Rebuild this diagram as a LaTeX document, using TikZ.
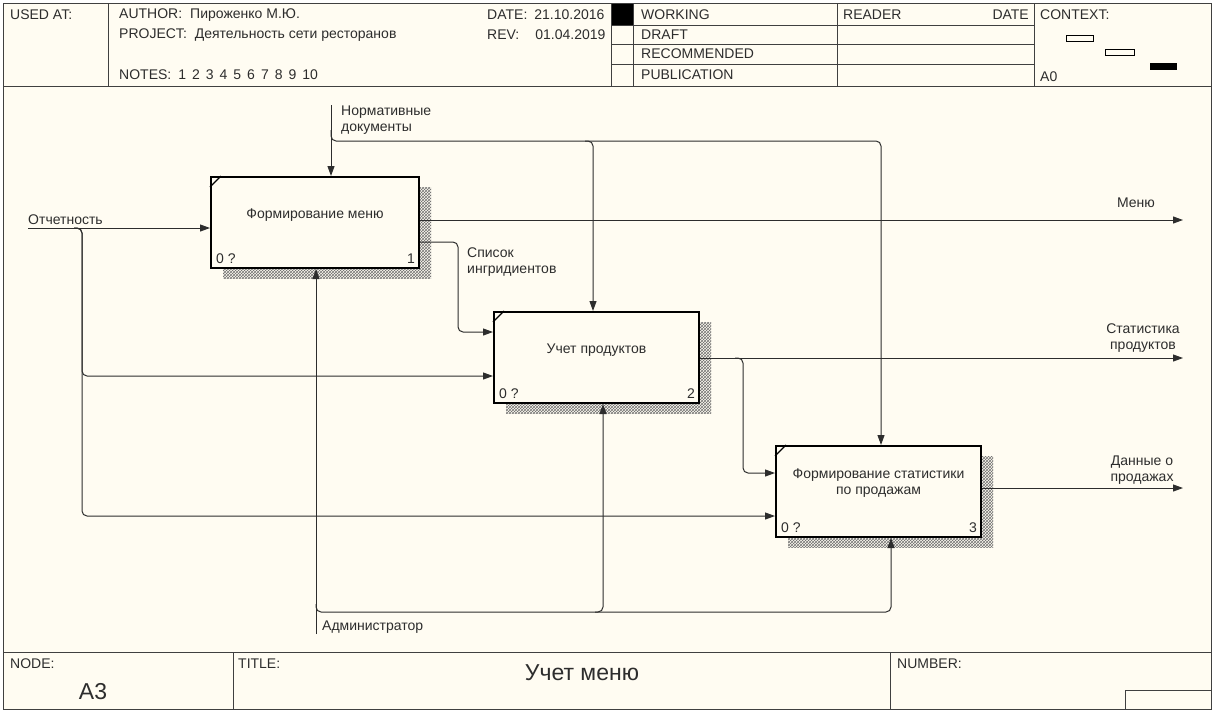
\documentclass[tikz,border=0pt]{standalone}
\usepackage{fontspec}
\setmainfont{Liberation Sans}
\usetikzlibrary{arrows.meta,patterns,calc,shadows}
\definecolor{bgc}{RGB}{255,252,242}
\definecolor{ink}{RGB}{45,45,45}
\begin{document}
\begin{tikzpicture}[x=1pt,y=-1pt,
  arr/.style={draw=ink,line width=1pt,-{Triangle[length=10pt,width=7pt]}},
  frame/.style={draw=black!75,line width=1pt},
  lbl/.style={font=\fontsize{14}{16}\selectfont,text=ink,inner sep=0pt},
  hdr/.style={lbl,anchor=west},
  idefbox/.style={draw=black,line width=2pt,fill=bgc,inner sep=0pt,minimum height=91pt,
     drop shadow={shadow xshift=12pt,shadow yshift=-10pt,opacity=1,pattern=crosshatch,pattern color=black!55}},
  corner/.style={draw=black,line width=1.3pt},
  big/.style={lbl,font=\fontsize{23}{25}\selectfont}
]
\useasboundingbox (0,0) rectangle (1214,710);
\fill[white] (0,0) rectangle (1214,710);
\fill[bgc] (3,3) rectangle (1211,709);

% ---------- header ----------
\fill[black] (611,3) rectangle (633,25);
\draw[frame] (3,3) rectangle (1211,709);
\draw[frame] (3,86) -- (1211,86);
\draw[frame] (108,3) -- (108,86);
\draw[frame] (611,3) -- (611,86);
\draw[frame] (633,3) -- (633,86);
\draw[frame] (837,3) -- (837,86);
\draw[frame] (1034,3) -- (1034,86);
\foreach \yy in {25,44,64} \draw[frame] (611,\yy) -- (1034,\yy);

\node[hdr] (usedat) at (10,15) {USED AT:};
\node[hdr] (author) at (119,15) {AUTHOR:\hspace{8pt}Пироженко М.Ю.};
\node[hdr] (project) at (119,35) {PROJECT:\hspace{8pt}Деятельность сети ресторанов};
\node[hdr] (notes) at (119,75) {NOTES:\hspace{7pt}1\hspace{6pt}2\hspace{6pt}3\hspace{6pt}4\hspace{6pt}5\hspace{6pt}6\hspace{6pt}7\hspace{6pt}8\hspace{6pt}9\hspace{6pt}10};
\node[hdr] (date) at (487,15) {DATE:\hspace{7pt}21.10.2016};
\node[hdr] (rev) at (487,35) {REV:\hspace{16pt}01.04.2019};
\node[hdr] (working) at (641,15) {WORKING};
\node[hdr] (draft) at (641,35) {DRAFT};
\node[hdr] (recom) at (641,54) {RECOMMENDED};
\node[hdr] (publ) at (641,75) {PUBLICATION};
\node[hdr] (reader) at (843,15) {READER};
\node[lbl,anchor=east] (rdate) at (1029,15) {DATE};
\node[hdr] (context) at (1040,15) {CONTEXT:};
\node[hdr] (azero) at (1040,77) {A0};
\draw[draw=black,line width=0.8pt,fill=bgc] (1066,35) rectangle (1093,41);
\draw[draw=black,line width=0.8pt,fill=bgc] (1105,49) rectangle (1134,55);
\fill[black] (1150,63) rectangle (1177,70);

% ---------- footer ----------
\draw[frame] (3,652) -- (1211,652);
\draw[frame] (233,652) -- (233,709);
\draw[frame] (890,652) -- (890,709);
\draw[frame] (1125,690) rectangle (1211,709);
\node[hdr] (nodelbl) at (10,664) {NODE:};
\node[hdr] (titlelbl) at (238,664) {TITLE:};
\node[hdr] (numlbl) at (897,664) {NUMBER:};
\node[big] (nodeval) at (93,692) {A3};
\node[big] (titleval) at (582,673) {Учет меню};

% ---------- boxes ----------
\node[idefbox,minimum width=208pt] (b1) at (315,222.5) {};
\node[idefbox,minimum width=205pt] (b2) at (596.5,357.5) {};
\node[idefbox,minimum width=205pt] (b3) at (878.5,491.5) {};

\foreach \b/\n in {b1/1,b2/2,b3/3}{
  \draw[corner] ($(\b.north west)+(0,11)$) -- ($(\b.north west)+(11,0)$);
  \node[lbl,anchor=south west] (\b zero) at ($(\b.south west)+(6,-5)$) {0 ?};
  \node[lbl,anchor=south east] (\b num) at ($(\b.south east)+(-5,-5)$) {\n};
}
\node[lbl] (t1) at ($(b1.center)+(0,-7)$) {Формирование меню};
\node[lbl] (t2) at ($(b2.center)+(0,-7)$) {Учет продуктов};
\node[lbl,align=center] (t3) at ($(b3.center)+(0,-8)$) {Формирование статистики\\по продажам};

% ---------- control ----------
\coordinate (ctrlTop) at (331,105);
\coordinate (ctrlSplit) at (331,130);
\coordinate (k2) at (593,141);
\coordinate (k3) at (881,141);
\draw[arr] (ctrlTop) -- (ctrlTop |- b1.north);
\draw[arr,rounded corners=5] (ctrlSplit) |- (k2) -- (k2 |- b2.north);
\draw[arr,rounded corners=5] ($(k2)+(-8,0)$) -- (k3) -- (k3 |- b3.north);
\node[lbl,anchor=west,align=left] (lnorm) at (341,120) {Нормативные\\документы};

% ---------- input ----------
\coordinate (repIn) at (28,228);
\coordinate (repBr) at (82,228);
\coordinate (r2) at (82,376);
\coordinate (r3) at (82,516);
\draw[arr] (repIn) -- (repIn -| b1.west);
\draw[arr,rounded corners=5] ($(repBr)+(-8,0)$) -- (repBr) -- (r2) -- (r2 -| b2.west);
\draw[arr,rounded corners=5] ($(repBr)+(-8,0)$) -- (repBr) -- (r3) -- (r3 -| b3.west);
\node[lbl,anchor=west] (lrep) at (28,220) {Отчетность};

% ---------- outputs ----------
\coordinate (mOut) at (1183,220);
\draw[arr] (mOut -| b1.east) -- (mOut);
\node[lbl] (lmenu) at (1136,203) {Меню};

\coordinate (s1) at (458,242);
\coordinate (s2) at (458,332);
\draw[arr,rounded corners=5] (s1 -| b1.east) -- (s1) -- (s2) -- (s2 -| b2.west);
\node[lbl,anchor=west,align=left] (lspis) at (467,262) {Список\\ингридиентов};

\coordinate (pOut) at (1183,358);
\coordinate (p1) at (743,358);
\coordinate (p2) at (743,473);
\draw[arr] (pOut -| b2.east) -- (pOut);
\draw[arr,rounded corners=5] ($(p1)+(-8,0)$) -- (p1) -- (p2) -- (p2 -| b3.west);
\node[lbl,align=center] (lstat) at (1143,338) {Статистика\\продуктов};

\coordinate (dOut) at (1183,488);
\draw[arr] (dOut -| b3.east) -- (dOut);
\node[lbl,align=center] (ldata) at (1142,470) {Данные о\\продажах};

% ---------- mechanism ----------
\coordinate (admBot) at (316,634);
\coordinate (a1) at (316,612);
\coordinate (a2) at (603,612);
\coordinate (a3) at (891,612);
\draw[arr] (admBot) -- (admBot |- b1.south);
\draw[arr,rounded corners=5] ($(a1)+(0,-8)$) -- (a1) -- (a2) -- (a2 |- b2.south);
\draw[arr,rounded corners=5] ($(a2)+(-8,0)$) -- (a3) -- (a3 |- b3.south);
\node[lbl,anchor=west] (ladm) at (322,627) {Администратор};
\end{tikzpicture}
\end{document}
